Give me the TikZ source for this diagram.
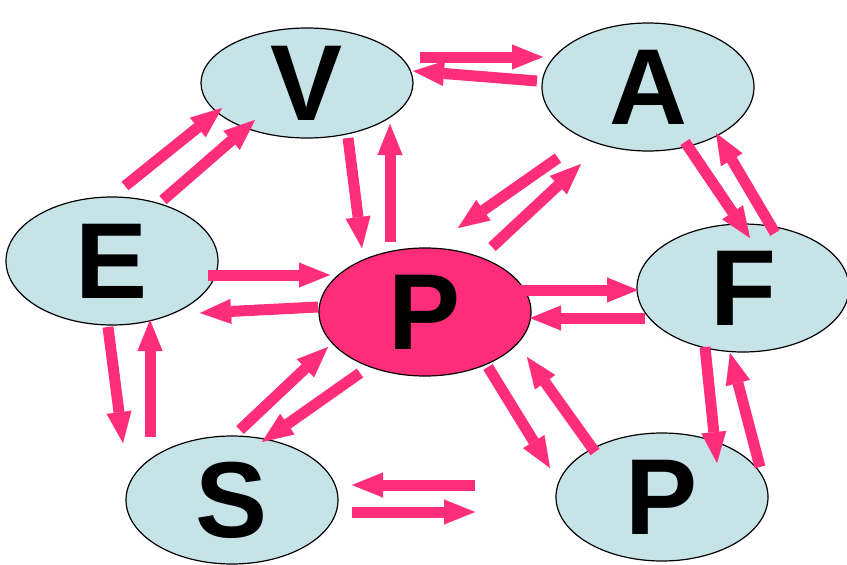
\documentclass[tikz,border=0pt]{standalone}
\usepackage{fontspec}
\setmainfont{Liberation Sans}
\usetikzlibrary{shapes.geometric,arrows.meta}
\definecolor{cellblue}{RGB}{198,228,232}
\definecolor{hotpink}{RGB}{255,45,122}
\newcommand{\cellfont}{\bfseries\fontsize{108}{108}\selectfont}

\begin{document}
\begin{tikzpicture}[x=1pt,y=-1pt,
	cell/.style={ellipse,draw=black,line width=1.2pt,fill=cellblue,minimum width=212pt,minimum height=128pt,inner sep=0pt,font=\cellfont},
	link/.style={draw=hotpink,line width=11pt,-{Triangle[length=31pt,width=25pt,line width=0.1pt,fill=hotpink]}}]
	\useasboundingbox (0,0) rectangle (847,565);
	\node[cell,minimum height=110pt] (V) at (307,83) {V};
	\node[cell] (A) at (648,87) {A};
	\node[cell] (E) at (112,261) {E};
	\node[cell,fill=hotpink] (P) at (425,312) {P};
	\node[cell] (F) at (743,288) {F};
	\node[cell] (S) at (232,500) {S};
	\node[cell] (Pb) at (662,497) {P};
	\path[every edge/.style=link]
	([shift={(113,-26)}]V.center) edge ([shift={(-105,-30)}]A.center)
	([shift={(-111,-6)}]A.center) edge ([shift={(106,-12)}]V.center)
	([shift={(41,55)}]V.center) edge ([shift={(-63,-64)}]P.center)
	([shift={(-35,-70)}]P.center) edge ([shift={(83,41)}]V.center)
	([shift={(-90,71)}]A.center) edge ([shift={(33,-84)}]P.center)
	([shift={(67,-65)}]P.center) edge ([shift={(-67,77)}]A.center)
	([shift={(37,55)}]A.center) edge ([shift={(7,-50)}]F.center)
	([shift={(32,-55)}]F.center) edge ([shift={(68,46)}]A.center)
	([shift={(13,-75)}]E.center) edge ([shift={(-85,25)}]V.center)
	([shift={(51,-61)}]E.center) edge ([shift={(-52,37)}]V.center)
	([shift={(96,14)}]E.center) edge ([shift={(-95,-37)}]P.center)
	([shift={(-107,-5)}]P.center) edge ([shift={(88,52)}]E.center)
	([shift={(95,-22)}]P.center) edge ([shift={(-105,2)}]F.center)
	([shift={(-98,30)}]F.center) edge ([shift={(105,6)}]P.center)
	([shift={(-4,66)}]E.center) edge ([shift={(-109,-57)}]S.center)
	([shift={(-82,-63)}]S.center) edge ([shift={(38,59)}]E.center)
	([shift={(8,-70)}]S.center) edge ([shift={(-97,35)}]P.center)
	([shift={(-65,61)}]P.center) edge ([shift={(30,-58)}]S.center)
	([shift={(63,55)}]P.center) edge ([shift={(-112,-29)}]Pb.center)
	([shift={(-67,-45)}]Pb.center) edge ([shift={(102,45)}]P.center)
	([shift={(-38,59)}]F.center) edge ([shift={(55,-34)}]Pb.center)
	([shift={(98,-30)}]Pb.center) edge ([shift={(-13,65)}]F.center)
	([shift={(-187,-12)}]Pb.center) edge ([shift={(120,-15)}]S.center)
	([shift={(120,12)}]S.center) edge ([shift={(-187,15)}]Pb.center);
\end{tikzpicture}
\end{document}
